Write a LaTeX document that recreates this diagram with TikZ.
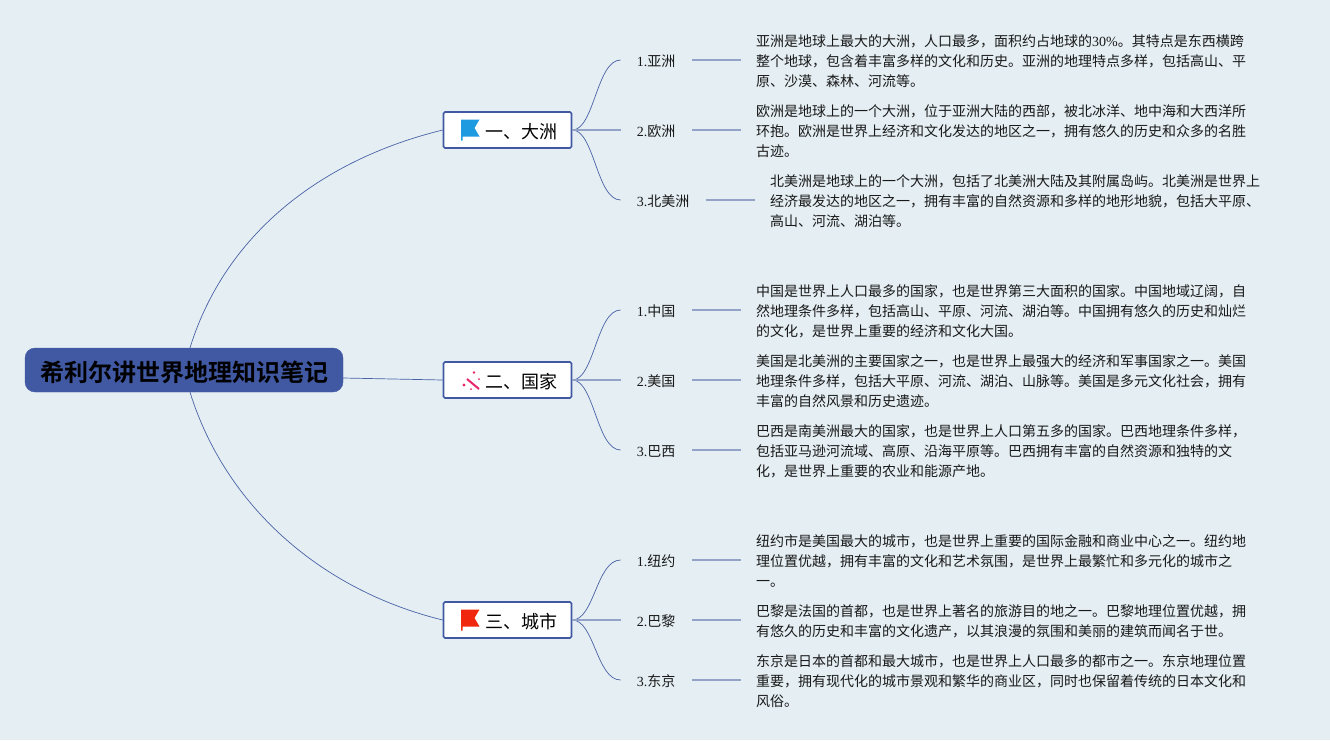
\documentclass[tikz,border=0pt]{standalone}
\usepackage{fontspec}
\setmainfont{Liberation Serif}
\newfontfamily\cjk{Noto Sans CJK SC}
\newfontfamily\cjkb{Noto Sans CJK SC Bold}
\definecolor{bgc}{HTML}{E4EEF3}
\definecolor{rootc}{HTML}{4159A3}
\definecolor{edgec}{HTML}{4A62A6}
\definecolor{lightc}{HTML}{93A3C8}
\definecolor{flagblue}{HTML}{1E9BE0}
\definecolor{flagred}{HTML}{F0260E}
\definecolor{sparkc}{HTML}{E8286E}
\tikzset{
 x=1pt,y=-1pt,
 rootbox/.style={draw=rootc,fill=rootc,rounded corners=10pt,minimum width=318pt,minimum height=44pt,inner sep=0pt,text=black,text height=24pt,text depth=2pt,font=\fontsize{24}{28}\selectfont\cjkb},
 branchbox/.style={draw=rootc,line width=1.6pt,fill=white,rounded corners=1.5pt,minimum width=128pt,minimum height=36pt,inner sep=0pt},
 branchtext/.style={anchor=west,inner sep=0pt,font=\fontsize{18}{22}\selectfont\cjk,text=black},
 sublabel/.style={anchor=west,inner xsep=16pt,inner ysep=3pt,text height=14pt,text depth=2pt,font=\fontsize{14}{20}\selectfont\cjk,text=black!90},
 detail/.style={anchor=west,inner xsep=15pt,inner ysep=0pt,align=left,font=\fontsize{14}{20}\selectfont\cjk,text=black!90},
 curveedge/.style={draw=edgec,line width=0.7pt},
 stubedge/.style={draw=lightc,line width=1.3pt},
}
\newcommand{\lat}[1]{{\rmfamily #1}}
\newcommand{\flagicon}[3]{%
 \fill[#3] (#1,#2) -- ++(18.5,0) -- ++(-5,8.5) -- ++(5,8.5) -- ++(-17,0) -- ++(0,4) -- ++(-1.5,0) -- cycle;}
\begin{document}
\begin{tikzpicture}
\useasboundingbox (0,0) rectangle (1330,740);
\fill[bgc] (0,0) rectangle (1330,740);
\node[rootbox] (root) at (184,370) {希利尔讲世界地理知识笔记};
\node[branchbox] (b1) at (507.5,130) {};
\node[branchbox] (b2) at (507.5,380) {};
\node[branchbox] (b3) at (507.5,620) {};
\node[branchtext] (t1) at (485,131.5) {一、大洲};
\node[branchtext] (t2) at (485,381.5) {二、国家};
\node[branchtext] (t3) at (485,621.5) {三、城市};
\flagicon{461}{119.5}{flagblue}
\flagicon{461}{609.5}{flagred}
% sparkle
\draw[line width=2pt,color=sparkc] (467,379) -- (479,389);
\fill[sparkc] (474,372.5) circle (1.3) (464,385) circle (1.7) (479,379) circle (1) (471,389) circle (1);
% sub labels
\node[sublabel] (s11) at (620.6,60) {\lat{1.}亚洲};
\node[sublabel] (s12) at (620.6,130) {\lat{2.}欧洲};
\node[sublabel] (s13) at (620.6,200) {\lat{3.}北美洲};
\node[sublabel] (s21) at (620.6,310) {\lat{1.}中国};
\node[sublabel] (s22) at (620.6,380) {\lat{2.}美国};
\node[sublabel] (s23) at (620.6,450) {\lat{3.}巴西};
\node[sublabel] (s31) at (620.6,560) {\lat{1.}纽约};
\node[sublabel] (s32) at (620.6,620) {\lat{2.}巴黎};
\node[sublabel] (s33) at (620.6,680) {\lat{3.}东京};
% details
\node[detail] (d11) at (741,61) {亚洲是地球上最大的大洲，人口最多，面积约占地球的\lat{30\%}。其特点是东西横跨\\整个地球，包含着丰富多样的文化和历史。亚洲的地理特点多样，包括高山、平\\原、沙漠、森林、河流等。};
\node[detail] (d12) at (741,131) {欧洲是地球上的一个大洲，位于亚洲大陆的西部，被北冰洋、地中海和大西洋所\\环抱。欧洲是世界上经济和文化发达的地区之一，拥有悠久的历史和众多的名胜\\古迹。};
\node[detail] (d13) at (755,201) {北美洲是地球上的一个大洲，包括了北美洲大陆及其附属岛屿。北美洲是世界上\\经济最发达的地区之一，拥有丰富的自然资源和多样的地形地貌，包括大平原、\\高山、河流、湖泊等。};
\node[detail] (d21) at (741,311) {中国是世界上人口最多的国家，也是世界第三大面积的国家。中国地域辽阔，自\\然地理条件多样，包括高山、平原、河流、湖泊等。中国拥有悠久的历史和灿烂\\的文化，是世界上重要的经济和文化大国。};
\node[detail] (d22) at (741,381) {美国是北美洲的主要国家之一，也是世界上最强大的经济和军事国家之一。美国\\地理条件多样，包括大平原、河流、湖泊、山脉等。美国是多元文化社会，拥有\\丰富的自然风景和历史遗迹。};
\node[detail] (d23) at (741,451) {巴西是南美洲最大的国家，也是世界上人口第五多的国家。巴西地理条件多样，\\包括亚马逊河流域、高原、沿海平原等。巴西拥有丰富的自然资源和独特的文\\化，是世界上重要的农业和能源产地。};
\node[detail] (d31) at (741,561) {纽约市是美国最大的城市，也是世界上重要的国际金融和商业中心之一。纽约地\\理位置优越，拥有丰富的文化和艺术氛围，是世界上最繁忙和多元化的城市之\\一。};
\node[detail] (d32) at (741,621) {巴黎是法国的首都，也是世界上著名的旅游目的地之一。巴黎地理位置优越，拥\\有悠久的历史和丰富的文化遗产，以其浪漫的氛围和美丽的建筑而闻名于世。};
\node[detail] (d33) at (741,681) {东京是日本的首都和最大城市，也是世界上人口最多的都市之一。东京地理位置\\重要，拥有现代化的城市景观和繁华的商业区，同时也保留着传统的日本文化和\\风俗。};
% root edges
\draw[curveedge] ([xshift=6pt]root.north) .. controls (225,235) and (320,160) .. (b1.west);
\draw[curveedge] ([yshift=-8pt]root.east) -- (b2.west);
\draw[curveedge] ([xshift=6pt]root.south) .. controls (225,505) and (320,590) .. (b3.west);
% branch edges
\foreach \b/\s in {b1/s11,b2/s21,b3/s31,b1/s13,b2/s23,b3/s33}{
 \draw[curveedge] (\b.east) .. controls +(22,0) and ([xshift=-24pt]\s.west) .. (\s.west);}
\foreach \b/\s in {b1/s12,b2/s22,b3/s32}{
 \draw[stubedge] (\b.east) -- (\s.west);}
% detail stubs
\foreach \s/\d in {s11/d11,s12/d12,s13/d13,s21/d21,s22/d22,s23/d23,s31/d31,s32/d32,s33/d33}{
 \draw[stubedge] (\s.east) -- (\s.east -| \d.west);}
\end{tikzpicture}
\end{document}
